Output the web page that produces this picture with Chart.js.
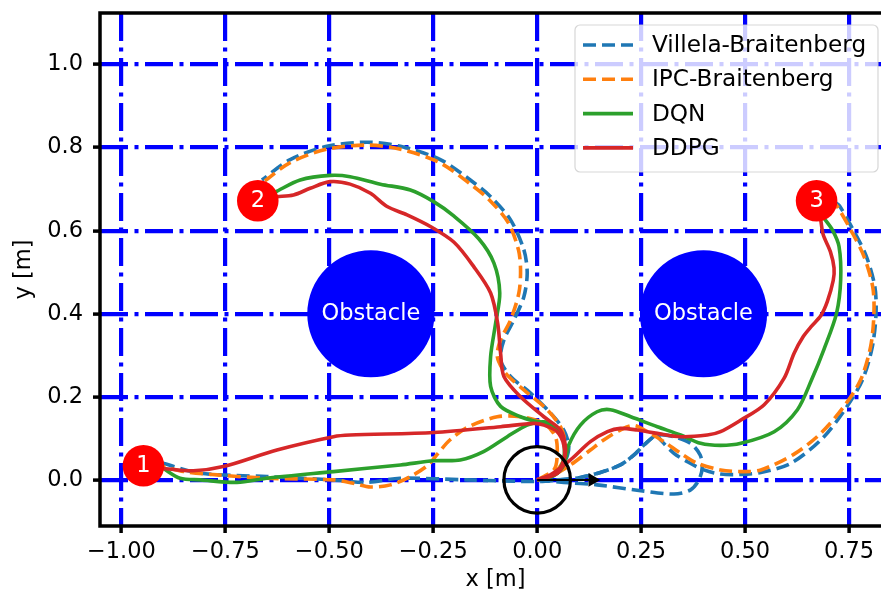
<!DOCTYPE html>
<html>
<head>
<meta charset="utf-8">
<script src="https://cdn.jsdelivr.net/npm/chart.js@4.4.1/dist/chart.umd.min.js"></script>
<style>
  html, body { margin: 0; background: #fff; overflow: hidden; }
  #wrap { width: 881px; height: 594px; overflow: hidden; }
</style>
</head>
<body>
<div id="wrap"><canvas id="traj" width="899" height="594"></canvas></div>
<script>
// Axis ticks
const xTicks = [-1.0, -0.75, -0.5, -0.25, 0.0, 0.25, 0.5, 0.75];
const xTickLabels = ['−1.00', '−0.75', '−0.50', '−0.25', '0.00', '0.25', '0.50', '0.75'];
const yTicks = [0.0, 0.2, 0.4, 0.6, 0.8, 1.0];
const yTickLabels = ['0.0', '0.2', '0.4', '0.6', '0.8', '1.0'];

// Scene
const obstacles = [[-0.4, 0.4], [0.4, 0.4]];
const obstacleRadius = 0.153;
const targets = [[-0.947, 0.034], [-0.672, 0.672], [0.672, 0.672]];
const targetLabels = ['1', '2', '3'];
const targetRadius = 0.05;
const robotStart = [[0, 0]];
const robotRadius = 0.08;
const headingLine = [[0, 0], [0.125, 0]];
const headingTip = [[0.133, 0]];

// Trajectories (start -> target 1, 2, 3)
const villela1 = [[0, 0], [0.064, -0.006], [0.144, -0.012], [0.249, -0.026], [0.329, -0.034], [0.369, -0.024], [0.389, 0.0], [0.397, 0.03], [0.392, 0.06], [0.369, 0.088], [0.329, 0.104], [0.288, 0.108], [0.257, 0.084], [0.233, 0.06], [0.2, 0.036], [0.152, 0.018], [0.104, 0.006], [0.05, 0.0], [0.0, -0.004], [-0.169, 0.0], [-0.33, 0.004], [-0.41, -0.006], [-0.49, 0.0], [-0.65, 0.008], [-0.81, 0.016], [-0.9, 0.04]];
const villela2 = [[0, 0], [0.04, 0.012], [0.065, 0.04], [0.076, 0.08], [0.064, 0.12], [0.032, 0.161], [-0.016, 0.209], [-0.064, 0.249], [-0.088, 0.289], [-0.08, 0.337], [-0.056, 0.385], [-0.032, 0.441], [-0.024, 0.498], [-0.032, 0.554], [-0.064, 0.626], [-0.11, 0.68], [-0.153, 0.716], [-0.233, 0.771], [-0.329, 0.803], [-0.409, 0.813], [-0.506, 0.803], [-0.594, 0.771], [-0.662, 0.722]];
const villela3 = [[0, 0], [0.05, 0.0], [0.104, 0.006], [0.152, 0.018], [0.2, 0.036], [0.233, 0.06], [0.257, 0.084], [0.288, 0.108], [0.297, 0.096], [0.329, 0.064], [0.361, 0.044], [0.401, 0.024], [0.441, 0.014], [0.49, 0.013], [0.538, 0.018], [0.61, 0.04], [0.686, 0.1], [0.742, 0.172], [0.782, 0.24], [0.806, 0.32], [0.815, 0.401], [0.812, 0.466], [0.791, 0.54], [0.759, 0.604], [0.727, 0.66], [0.717, 0.668]];

const ipc1 = [[0, 0], [0.04, 0.024], [0.048, 0.056], [0.044, 0.104], [0.016, 0.136], [-0.04, 0.152], [-0.096, 0.152], [-0.165, 0.128], [-0.21, 0.096], [-0.24, 0.062], [-0.262, 0.036], [-0.305, 0.008], [-0.353, -0.012], [-0.401, -0.017], [-0.442, -0.008], [-0.49, 0.0], [-0.65, 0.004], [-0.77, 0.012], [-0.85, 0.02], [-0.9, 0.032]];
const ipc2 = [[0, 0], [0.04, 0.016], [0.064, 0.048], [0.068, 0.088], [0.056, 0.128], [0.024, 0.169], [-0.03, 0.215], [-0.076, 0.257], [-0.096, 0.297], [-0.088, 0.337], [-0.064, 0.385], [-0.044, 0.45], [-0.04, 0.505], [-0.045, 0.554], [-0.07, 0.62], [-0.115, 0.674], [-0.158, 0.71], [-0.235, 0.764], [-0.329, 0.796], [-0.409, 0.806], [-0.506, 0.796], [-0.594, 0.764], [-0.655, 0.72]];
const ipc3 = [[0, 0], [0.032, 0.008], [0.08, 0.036], [0.128, 0.072], [0.16, 0.096], [0.2, 0.12], [0.233, 0.131], [0.265, 0.116], [0.305, 0.092], [0.345, 0.064], [0.385, 0.04], [0.441, 0.024], [0.49, 0.02], [0.538, 0.024], [0.618, 0.062], [0.682, 0.112], [0.738, 0.177], [0.778, 0.241], [0.802, 0.321], [0.81, 0.401], [0.807, 0.465], [0.786, 0.538], [0.754, 0.602], [0.722, 0.658], [0.712, 0.668]];

const dqn1 = [[0, 0], [0.045, 0.015], [0.064, 0.05], [0.062, 0.1], [0.04, 0.13], [0.016, 0.14], [-0.024, 0.132], [-0.072, 0.104], [-0.129, 0.068], [-0.185, 0.048], [-0.249, 0.046], [-0.329, 0.036], [-0.49, 0.02], [-0.65, 0.004], [-0.722, -0.006], [-0.81, 0.0], [-0.859, 0.004], [-0.9, 0.028]];
const dqn2 = [[0, 0], [0.045, 0.015], [0.064, 0.05], [0.062, 0.1], [0.04, 0.13], [-0.008, 0.142], [-0.04, 0.152], [-0.088, 0.177], [-0.112, 0.225], [-0.112, 0.297], [-0.1, 0.377], [-0.09, 0.45], [-0.104, 0.522], [-0.14, 0.58], [-0.2, 0.635], [-0.249, 0.67], [-0.305, 0.698], [-0.377, 0.712], [-0.45, 0.73], [-0.498, 0.733], [-0.57, 0.722], [-0.63, 0.693]];
const dqn3 = [[0, 0], [0.04, 0.01], [0.064, 0.036], [0.076, 0.084], [0.104, 0.132], [0.144, 0.164], [0.176, 0.169], [0.225, 0.152], [0.289, 0.128], [0.345, 0.108], [0.393, 0.088], [0.441, 0.083], [0.49, 0.088], [0.57, 0.116], [0.626, 0.169], [0.66, 0.241], [0.69, 0.315], [0.72, 0.401], [0.73, 0.482], [0.726, 0.562], [0.71, 0.602], [0.69, 0.63]];

const ddpg1 = [[0, 0], [0.048, 0.016], [0.064, 0.044], [0.064, 0.084], [0.048, 0.116], [0.016, 0.132], [-0.008, 0.136], [-0.088, 0.128], [-0.249, 0.114], [-0.45, 0.108], [-0.49, 0.104], [-0.626, 0.072], [-0.755, 0.032], [-0.827, 0.022], [-0.903, 0.028]];
const ddpg2 = [[0, 0], [0.048, 0.016], [0.064, 0.048], [0.068, 0.08], [0.056, 0.12], [0.016, 0.152], [-0.04, 0.2], [-0.08, 0.249], [-0.088, 0.305], [-0.095, 0.377], [-0.112, 0.45], [-0.153, 0.514], [-0.2, 0.572], [-0.257, 0.61], [-0.313, 0.638], [-0.361, 0.658], [-0.401, 0.69], [-0.45, 0.712], [-0.498, 0.718], [-0.546, 0.702], [-0.586, 0.686], [-0.626, 0.682]];
const ddpg3 = [[0, 0], [0.032, 0.012], [0.08, 0.048], [0.128, 0.092], [0.169, 0.116], [0.2, 0.124], [0.241, 0.12], [0.289, 0.112], [0.345, 0.104], [0.409, 0.108], [0.441, 0.116], [0.49, 0.144], [0.546, 0.181], [0.594, 0.245], [0.618, 0.305], [0.64, 0.345], [0.66, 0.37], [0.682, 0.395], [0.698, 0.43], [0.712, 0.48], [0.714, 0.51], [0.705, 0.55], [0.688, 0.59], [0.682, 0.626]];

const methods = [
    { label: 'Villela-Braitenberg', paths: [villela1, villela2, villela3], color: '#1f77b4', dash: [13, 6], order: 6 },
    { label: 'IPC-Braitenberg', paths: [ipc1, ipc2, ipc3], color: '#ff7f0e', dash: [13, 6], order: 5 },
    { label: 'DQN', paths: [dqn1, dqn2, dqn3], color: '#2ca02c', dash: [], order: 4 },
    { label: 'DDPG', paths: [ddpg1, ddpg2, ddpg3], color: '#d62728', dash: [], order: 3 }
];

const FONT = "'DejaVu Sans', sans-serif";
Chart.defaults.font.family = FONT;
Chart.defaults.font.size = 22.5;
Chart.defaults.color = '#000';

const pts = arr => arr.map(p => ({ x: p[0], y: p[1] }));
// data units -> pixels (axes are equal aspect)
const unitPx = (chart, r) => chart.scales.x.getPixelForValue(r) - chart.scales.x.getPixelForValue(0);

const datasets = [];
datasets.push({
    data: pts(obstacles),
    pointRadius: ctx => unitPx(ctx.chart, obstacleRadius),
    pointBackgroundColor: '#0000ff',
    pointBorderWidth: 0,
    order: 10
});
methods.forEach(m => {
    m.paths.forEach(p => {
        datasets.push({
            data: pts(p),
            showLine: true,
            borderColor: m.color,
            borderWidth: 3.6,
            borderDash: m.dash,
            tension: 0.3,
            pointRadius: 0,
            order: m.order
        });
    });
});
datasets.push({
    data: pts(robotStart),
    pointRadius: ctx => unitPx(ctx.chart, robotRadius),
    pointBackgroundColor: 'rgba(0,0,0,0)',
    pointBorderColor: '#000',
    pointBorderWidth: 3.2,
    order: 2
});
datasets.push({
    data: pts(headingLine),
    showLine: true,
    borderColor: '#000',
    borderWidth: 2,
    pointRadius: 0,
    order: 2
});
datasets.push({
    data: pts(headingTip),
    pointStyle: 'triangle',
    rotation: 90,
    pointRadius: 8,
    pointBackgroundColor: '#000',
    pointBorderWidth: 0,
    order: 2
});
datasets.push({
    data: pts(targets),
    pointRadius: ctx => unitPx(ctx.chart, targetRadius),
    pointBackgroundColor: '#ff0000',
    pointBorderWidth: 0,
    order: 0
});

// Obstacle / target captions
const captions = {
    id: 'captions',
    afterDatasetsDraw(chart) {
        const { ctx, scales: { x, y } } = chart;
        ctx.save();
        ctx.fillStyle = '#fff';
        ctx.font = '22.5px ' + FONT;
        ctx.textAlign = 'center';
        ctx.textBaseline = 'middle';
        obstacles.forEach(o => ctx.fillText('Obstacle', x.getPixelForValue(o[0]), y.getPixelForValue(o[1])));
        targets.forEach((t, i) => ctx.fillText(targetLabels[i], x.getPixelForValue(t[0]), y.getPixelForValue(t[1])));
        ctx.restore();
    }
};

// Spines and matplotlib-like legend
const frame = {
    id: 'frame',
    afterDraw(chart) {
        const { ctx, chartArea: a } = chart;
        ctx.save();
        ctx.strokeStyle = '#000';
        ctx.lineWidth = 3.5;
        ctx.beginPath();
        ctx.moveTo(a.right, a.top);
        ctx.lineTo(a.left, a.top);
        ctx.lineTo(a.left, a.bottom);
        ctx.lineTo(a.right, a.bottom);
        ctx.stroke();

        // legend box
        const bx = 575, by = 25, bw = 303, bh = 147, r = 5;
        ctx.beginPath();
        ctx.roundRect(bx, by, bw, bh, r);
        ctx.fillStyle = 'rgba(255,255,255,0.8)';
        ctx.fill();
        ctx.lineWidth = 1.2;
        ctx.strokeStyle = 'rgba(204,204,204,0.8)';
        ctx.stroke();

        ctx.font = '23.2px ' + FONT;
        ctx.textAlign = 'left';
        ctx.textBaseline = 'middle';
        methods.forEach((m, i) => {
            const ry = 45 + i * 34.3;
            ctx.strokeStyle = m.color;
            ctx.lineWidth = 3.6;
            ctx.setLineDash(m.dash);
            ctx.beginPath();
            ctx.moveTo(583, ry);
            ctx.lineTo(633, ry);
            ctx.stroke();
            ctx.setLineDash([]);
            ctx.fillStyle = '#000';
            ctx.fillText(m.label, 652, ry + 1);
        });
        ctx.restore();
    }
};

const gridOpts = {
    color: '#0000ff',
    lineWidth: 4.2,
    drawTicks: true,
    tickLength: 7,
    tickWidth: 3.5,
    tickColor: '#000',
    tickBorderDash: []
};
// no extra room for edge labels: the axes box is fixed
const noPad = s => { s.paddingTop = 0; s.paddingBottom = 0; s.paddingLeft = 0; s.paddingRight = 0; };

new Chart(document.getElementById('traj'), {
    type: 'scatter',
    data: { datasets: datasets },
    options: {
        responsive: false,
        animation: false,
        events: [],
        devicePixelRatio: 1,
        layout: { padding: { top: 13, right: 0, bottom: 0, left: 0 } },
        plugins: { legend: { display: false }, tooltip: { enabled: false } },
        scales: {
            x: {
                type: 'linear',
                min: -1.0515,
                max: 0.851,
                afterBuildTicks: s => { s.ticks = xTicks.map(v => ({ value: v })); },
                afterFit: s => { s.height = 68; noPad(s); },
                ticks: { padding: 6, autoSkip: false, maxRotation: 0, callback: (v, i) => xTickLabels[i] },
                grid: gridOpts,
                border: { display: false, dash: [28, 6.5, 4, 6.5] },
                title: { display: true, text: 'x [m]', padding: { top: 0, bottom: 0 } }
            },
            y: {
                type: 'linear',
                min: -0.111,
                max: 1.124,
                afterBuildTicks: s => { s.ticks = yTicks.map(v => ({ value: v })); },
                afterFit: s => { s.width = 100; noPad(s); },
                ticks: { padding: 10, autoSkip: false, callback: (v, i) => yTickLabels[i] },
                grid: gridOpts,
                border: { display: false, dash: [28, 6.5, 4, 6.5] },
                title: { display: true, text: 'y [m]', padding: { top: 11, bottom: 0 } }
            }
        }
    },
    plugins: [captions, frame]
});
</script>
</body>
</html>
